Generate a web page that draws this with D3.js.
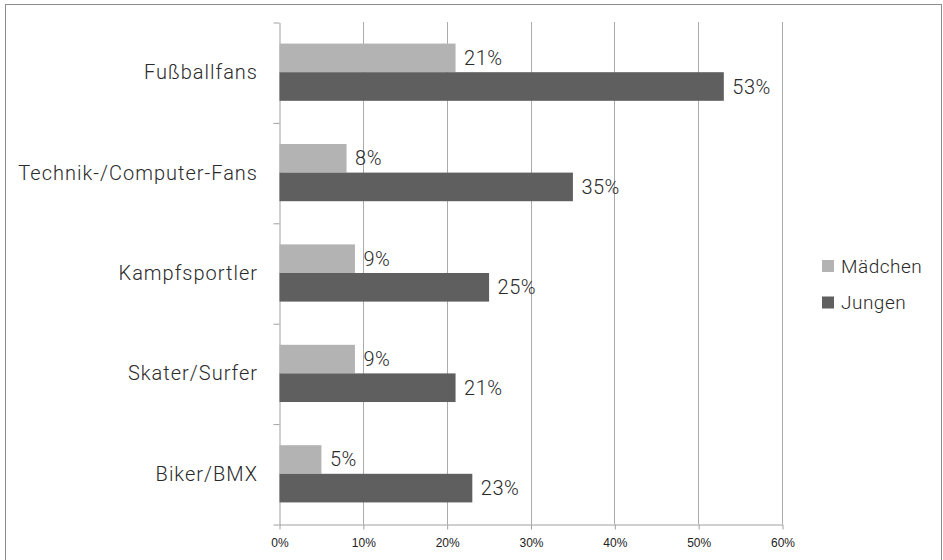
<!DOCTYPE html>
<html>
<head>
<meta charset="utf-8">
<script src="https://cdn.jsdelivr.net/npm/d3@7"></script>
<style>
  body { margin: 0; background: #fff; }
  svg { display: block; }
</style>
</head>
<body>
<div id="canvas"></div>
<script>
"use strict"

/* data */
let categories = ["Fußballfans", "Technik-/Computer-Fans", "Kampfsportler", "Skater/Surfer", "Biker/BMX"];
let seriesNames = ["Mädchen", "Jungen"];
let maedchen = [0.21, 0.08, 0.09, 0.09, 0.05];
let jungen = [0.53, 0.35, 0.25, 0.21, 0.23];
let xTicks = [0, 0.1, 0.2, 0.3, 0.4, 0.5, 0.6];

let colors = { "Mädchen": "#b3b3b3", "Jungen": "#5f5f5f" };
let textColor = "#2a2a2a";
let labelFont = "Roboto, 'DejaVu Sans', sans-serif";

let drawing = d3.select("#canvas")
  .append("svg")
  .attr("width", 943)
  .attr("height", 560);

/* outer frame */
let frame = drawing.append("rect")
  .attr("x", 5.5).attr("y", 4.5)
  .attr("width", 936).attr("height", 570)
  .attr("fill", "none")
  .attr("stroke", "#8c8c8c");

/* plot area */
let plotLeft = 279, plotRight = 782, plotTop = 22, plotBottom = 524;

let x = d3.scaleLinear().domain([0, 0.6]).range([plotLeft, plotRight]);

let y0 = d3.scaleBand()
  .domain(categories)
  .range([plotTop, plotBottom])
  .paddingInner(0.43)
  .paddingOuter(0.215);

let y1 = d3.scaleBand()
  .domain(seriesNames)
  .range([0, y0.bandwidth()]);

/* category boundaries for the left axis ticks */
let yEdges = d3.scaleLinear().domain([0, categories.length]).range([plotTop, plotBottom]);

/* vertical gridlines */
drawing.append("g")
  .selectAll("line")
  .data(xTicks.slice(1))
  .join("line")
  .attr("x1", d => Math.round(x(d)) + 0.5)
  .attr("x2", d => Math.round(x(d)) + 0.5)
  .attr("y1", plotTop).attr("y2", plotBottom)
  .attr("stroke", "#ababab")
  .attr("stroke-width", 1);

/* bottom axis */
let xAxis = drawing.append("g")
  .attr("transform", `translate(0.5,${plotBottom + 0.5})`)
  .call(d3.axisBottom(x)
    .tickValues(xTicks)
    .tickFormat(d3.format(".0%"))
    .tickSizeInner(5)
    .tickSizeOuter(0)
    .tickPadding(9));
xAxis.select(".domain").attr("stroke", "#a0a0a0");
xAxis.selectAll(".tick line").attr("stroke", "#a0a0a0");
xAxis.selectAll("text")
  .attr("font-family", "'Liberation Sans', Arial, sans-serif")
  .attr("font-size", 12)
  .attr("fill", "#222");

/* left axis (ticks at category boundaries) */
let yAxis = drawing.append("g")
  .attr("transform", `translate(${plotLeft + 0.5},0.5)`)
  .call(d3.axisLeft(yEdges)
    .tickValues(d3.range(categories.length + 1))
    .tickFormat("")
    .tickSizeInner(6)
    .tickSizeOuter(0));
yAxis.select(".domain").attr("stroke", "#a0a0a0");
yAxis.selectAll(".tick line").attr("stroke", "#a0a0a0");

/* category labels */
drawing.append("g")
  .selectAll("text")
  .data(categories)
  .join("text")
  .attr("x", 258)
  .attr("y", d => y0(d) + y0.bandwidth() / 2)
  .attr("dy", "0.35em")
  .attr("text-anchor", "end")
  .attr("font-family", labelFont)
  .attr("font-weight", 300)
  .attr("font-size", 20)
  .attr("letter-spacing", 1)
  .attr("fill", textColor)
  .text(d => d);

/* bars */
let rows = [];
categories.forEach((c, i) => {
  rows.push({ cat: c, series: "Mädchen", value: maedchen[i] });
  rows.push({ cat: c, series: "Jungen", value: jungen[i] });
});

drawing.append("g")
  .selectAll("rect")
  .data(rows)
  .join("rect")
  .attr("x", x(0) + 0.5)
  .attr("y", d => y0(d.cat) + y1(d.series))
  .attr("width", d => x(d.value) - x(0))
  .attr("height", y1.bandwidth())
  .attr("fill", d => colors[d.series]);

/* value labels */
drawing.append("g")
  .selectAll("text")
  .data(rows)
  .join("text")
  .attr("x", d => x(d.value) + 9)
  .attr("y", d => y0(d.cat) + y1(d.series) + y1.bandwidth() / 2)
  .attr("dy", "0.35em")
  .attr("font-family", labelFont)
  .attr("font-weight", 300)
  .attr("font-size", 20)
  .attr("letter-spacing", 0.5)
  .attr("fill", textColor)
  .text(d => d3.format(".0%")(d.value));

/* legend */
let legend = drawing.append("g")
  .selectAll("g")
  .data(seriesNames)
  .join("g")
  .attr("transform", (d, i) => `translate(822,${260 + i * 36.5})`);

legend.append("rect")
  .attr("width", 12).attr("height", 12)
  .attr("fill", d => colors[d]);

legend.append("text")
  .attr("x", 19)
  .attr("y", 6)
  .attr("dy", "0.35em")
  .attr("font-family", labelFont)
  .attr("font-weight", 300)
  .attr("font-size", 19)
  .attr("letter-spacing", 0.5)
  .attr("fill", textColor)
  .text(d => d);
</script>
</body>
</html>
